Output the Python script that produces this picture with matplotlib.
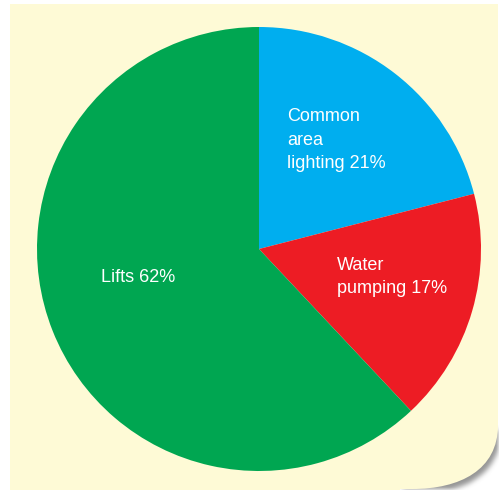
import numpy as np
import matplotlib
matplotlib.use("Agg")
import matplotlib.pyplot as plt
from matplotlib.path import Path
from matplotlib.patches import PathPatch

plt.rcParams["font.family"] = ["Liberation Sans", "DejaVu Sans"]

# share of electricity use
labels = ["Common\narea\nlighting 21%", "Water\npumping 17%", "Lifts 62%"]
shares = [21, 17, 62]
colors = ["#00aeef", "#ed1c24", "#00a651"]
# label anchor points (left edge, vertical centre) in data units of the pie
label_pos = [(0.127, 0.49), (0.351, -0.126), (-0.712, -0.13)]

W, H = 499, 490
panel_color = "#fefad6"

fig = plt.figure(figsize=(W / 100, H / 100), dpi=100)
fig.patch.set_facecolor("white")

# background panel drawn in pixel coordinates
bg = fig.add_axes([0, 0, 1, 1])
bg.set_xlim(0, W)
bg.set_ylim(H, 0)
bg.axis("off")


def panel_path(dx=0.0, dy=0.0, top=4.0, left=10.0):
    verts = [
        (left, top), (498, top), (498, 425),
        (498, 470), (460, 489), (412, 489),
        (left, 489), (left, top),
    ]
    codes = [Path.MOVETO, Path.LINETO, Path.LINETO,
             Path.CURVE4, Path.CURVE4, Path.CURVE4,
             Path.LINETO, Path.CLOSEPOLY]
    return Path([(x + dx, y + dy) for x, y in verts], codes)


# soft drop shadow under the rounded corner
yy, xx = np.mgrid[0:H, 0:W]
pts = np.column_stack([xx.ravel() + 0.5, yy.ravel() + 0.5])
mask = panel_path(3, 5, top=425, left=400).contains_points(pts).reshape(H, W).astype(float)
k = np.ones(5) / 5
for _ in range(3):
    mask = np.apply_along_axis(lambda r: np.convolve(r, k, mode="same"), 1, mask)
    mask = np.apply_along_axis(lambda c: np.convolve(c, k, mode="same"), 0, mask)
shadow = np.zeros((H, W, 4))
shadow[..., :3] = 0.45
shadow[..., 3] = mask * 0.75
bg.imshow(shadow, extent=(0, W, H, 0), interpolation="bilinear", zorder=1)
bg.add_patch(PathPatch(panel_path(), facecolor=panel_color, edgecolor="none", zorder=2))
# keep the lower left of the panel flush with the image bottom
bg.add_patch(PathPatch(Path([(10, 480), (400, 480), (400, 491), (10, 491), (10, 480)]),
                       facecolor=panel_color, edgecolor="none", zorder=2))

# pie axes: centre (259, 249) px, radius 222 px
cx, cy, r = 259, 249, 222
ax = fig.add_axes([(cx - r) / W, (H - cy - r) / H, 2 * r / W, 2 * r / H])
ax.pie(shares, colors=colors, startangle=90, counterclock=False,
       radius=1, wedgeprops=dict(linewidth=0))
ax.set_xlim(-1, 1)
ax.set_ylim(-1, 1)
ax.set_aspect("equal")
ax.axis("off")

for text, (x, y) in zip(labels, label_pos):
    ax.text(x, y, text, color="white", fontsize=13, ha="left", va="center",
            linespacing=1.5)

fig.savefig("out.png", dpi=100, facecolor=fig.get_facecolor())
